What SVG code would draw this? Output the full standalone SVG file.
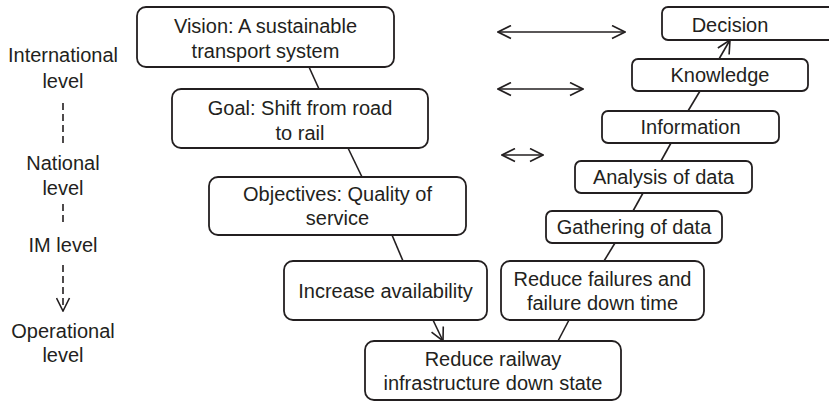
<svg xmlns="http://www.w3.org/2000/svg" width="829" height="401" viewBox="0 0 829 401">
<defs>
<style>
.box{fill:#fff;stroke:#231f20;stroke-width:1.8}
.t{font-family:"Liberation Sans",Arial,sans-serif;font-size:20px;fill:#231f20;text-anchor:middle}
.ln{stroke:#231f20;stroke-width:1.6;fill:none}
.dash{stroke:#231f20;stroke-width:1.6;fill:none;stroke-dasharray:7,4}
</style>
<marker id="ah" markerUnits="userSpaceOnUse" viewBox="0 0 15 15" refX="14" refY="7.5" markerWidth="15" markerHeight="15" orient="auto-start-reverse">
<path d="M1,1 L14,7.5 L1,14" fill="none" stroke="#231f20" stroke-width="1.6"/>
</marker>
</defs>
<rect width="829" height="401" fill="#fff"/>

<g id="levels">
<text class="t" x="63" y="62">International</text>
<text class="t" x="63" y="88">level</text>
<text class="t" x="63" y="170">National</text>
<text class="t" x="63" y="195">level</text>
<text class="t" x="63" y="252">IM level</text>
<text class="t" x="63" y="338">Operational</text>
<text class="t" x="63" y="362">level</text>
</g>

<g id="connectors">
<line class="dash" x1="63" y1="103" x2="63" y2="145"/>
<line class="dash" x1="63" y1="204" x2="63" y2="226"/>
<line class="dash" x1="63" y1="265" x2="63" y2="311" marker-end="url(#ah)"/>
<line class="ln" x1="309" y1="67" x2="319" y2="89"/>
<line class="ln" x1="348" y1="148" x2="362" y2="177"/>
<line class="ln" x1="392" y1="235" x2="403" y2="261"/>
<line class="ln" x1="433" y1="320" x2="443" y2="341" marker-end="url(#ah)"/>
<line class="ln" x1="569" y1="320" x2="558" y2="341"/>
<line class="ln" x1="604" y1="261" x2="615" y2="243"/>
<line class="ln" x1="633" y1="211" x2="643" y2="193"/>
<line class="ln" x1="661" y1="161" x2="671" y2="143"/>
<line class="ln" x1="688" y1="111" x2="700" y2="91"/>
<line class="ln" x1="719" y1="59" x2="730" y2="40" marker-end="url(#ah)"/>
<line class="ln" x1="498" y1="32" x2="625" y2="32" marker-start="url(#ah)" marker-end="url(#ah)"/>
<line class="ln" x1="498" y1="89" x2="583" y2="89" marker-start="url(#ah)" marker-end="url(#ah)"/>
<line class="ln" x1="502" y1="155" x2="543" y2="155" marker-start="url(#ah)" marker-end="url(#ah)"/>
</g>

<g id="vision">
<rect class="box" x="137" y="7" width="257" height="60" rx="9"/>
<text class="t" x="265.5" y="33">Vision: A sustainable</text>
<text class="t" x="265.5" y="58">transport system</text>
</g>
<g id="goal">
<rect class="box" x="172" y="89" width="256" height="59" rx="9"/>
<text class="t" x="300" y="115">Goal: Shift from road</text>
<text class="t" x="300" y="140">to rail</text>
</g>
<g id="objectives">
<rect class="box" x="209" y="177" width="257" height="58" rx="9"/>
<text class="t" x="337.5" y="201">Objectives: Quality of</text>
<text class="t" x="337.5" y="225">service</text>
</g>
<g id="increase">
<rect class="box" x="284" y="261" width="203" height="59" rx="9"/>
<text class="t" x="385.5" y="298">Increase availability</text>
</g>
<g id="reduce-railway">
<rect class="box" x="365" y="341" width="256" height="59" rx="9"/>
<text class="t" x="493" y="366">Reduce railway</text>
<text class="t" x="493" y="390">infrastructure down state</text>
</g>
<g id="reduce-failures">
<rect class="box" x="501" y="261" width="203" height="59" rx="9"/>
<text class="t" x="602.5" y="286">Reduce failures and</text>
<text class="t" x="602.5" y="310">failure down time</text>
</g>
<g id="gathering">
<rect class="box" x="546" y="211" width="176" height="32" rx="6"/>
<text class="t" x="634" y="234">Gathering of data</text>
</g>
<g id="analysis">
<rect class="box" x="575" y="161" width="177" height="32" rx="6"/>
<text class="t" x="663.5" y="184">Analysis of data</text>
</g>
<g id="information">
<rect class="box" x="602" y="111" width="177" height="32" rx="6"/>
<text class="t" x="690.5" y="134">Information</text>
</g>
<g id="knowledge">
<rect class="box" x="632" y="59" width="176" height="32" rx="6"/>
<text class="t" x="720" y="82">Knowledge</text>
</g>
<g id="decision">
<rect class="box" x="662" y="7" width="180" height="33" rx="6"/>
<text class="t" x="730" y="32">Decision</text>
</g>
</svg>
